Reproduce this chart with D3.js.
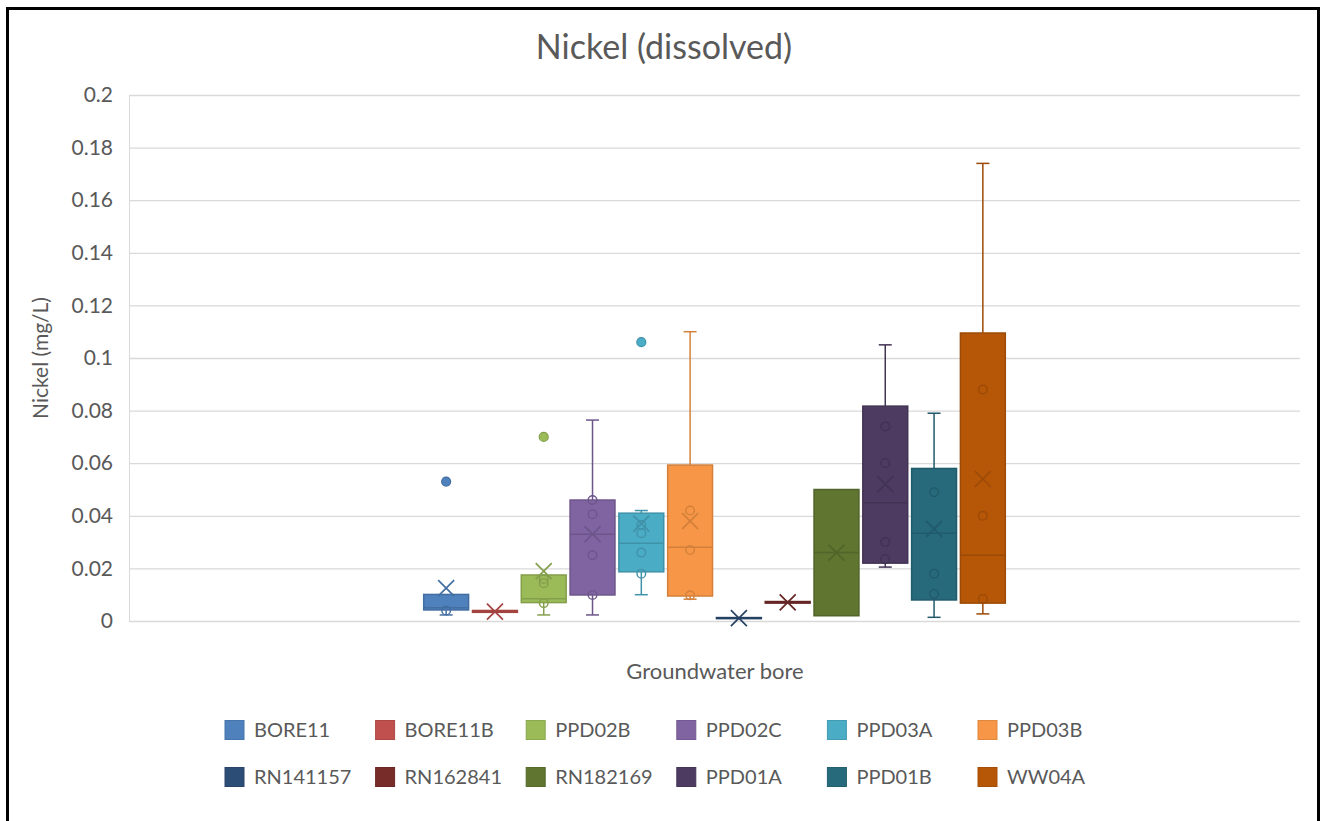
<!DOCTYPE html>
<html>
<head>
<meta charset="utf-8">
<script src="https://cdn.jsdelivr.net/npm/d3@7/dist/d3.min.js"></script>
<style>
  body { margin: 0; background: #fff; }
  svg text { font-family: Lato, "Open Sans", sans-serif; fill: #595959; }
</style>
</head>
<body>
<svg id="chart" width="1327" height="821"></svg>
<script>
// Dissolved nickel by groundwater bore (mg/L) — box & whisker summaries
const bores = ["BORE11", "BORE11B", "PPD02B", "PPD02C", "PPD03A", "PPD03B",
               "RN141157", "RN162841", "RN182169", "PPD01A", "PPD01B", "WW04A"];
const boreColors = ["#4F81BD", "#C0504D", "#9BBB59", "#8064A2", "#4BACC6", "#F79646",
                    "#2C4D75", "#772C2A", "#5F7530", "#4D3B62", "#276A7C", "#B65708"];

const whiskerLow  = [0.0023, 0.0033, 0.0023, 0.0023, 0.0100, 0.0083, 0.0009, 0.0068, 0.0020, 0.0205, 0.0014, 0.0027];
const quartile1   = [0.0042, 0.0033, 0.0070, 0.0099, 0.0187, 0.0095, 0.0009, 0.0068, 0.0020, 0.0220, 0.0080, 0.0068];
const medians     = [0.0050, 0.0036, 0.0085, 0.0330, 0.0296, 0.0280, 0.0011, 0.0071, 0.0260, 0.0450, 0.0334, 0.0250];
const quartile3   = [0.0101, 0.0040, 0.0175, 0.0460, 0.0410, 0.0593, 0.0013, 0.0074, 0.0500, 0.0817, 0.0580, 0.1095];
const whiskerHigh = [0.0101, 0.0040, 0.0175, 0.0764, 0.0420, 0.1100, 0.0013, 0.0074, 0.0500, 0.1050, 0.0790, 0.1740];
const means       = [0.0125, 0.0036, 0.0190, 0.0330, 0.0370, 0.0380, 0.0011, 0.0071, 0.0260, 0.0520, 0.0350, 0.0540];
const innerPoints = [
  [0.0040],
  [],
  [0.0160, 0.0144, 0.0068],
  [0.0460, 0.0406, 0.0250, 0.0099],
  [0.0365, 0.0334, 0.0260, 0.0180],
  [0.0420, 0.0270, 0.0098],
  [],
  [],
  [],
  [0.0740, 0.0600, 0.0300, 0.0235],
  [0.0490, 0.0180, 0.0103],
  [0.0880, 0.0400, 0.0084]
];
const outliers = [[0.053], [], [0.070], [], [0.106], [], [], [], [], [], [], []];

const yTicks = [0, 0.02, 0.04, 0.06, 0.08, 0.1, 0.12, 0.14, 0.16, 0.18, 0.2];
const yTickLabels = ["0", "0.02", "0.04", "0.06", "0.08", "0.1", "0.12", "0.14", "0.16", "0.18", "0.2"];

const titleText = "Nickel (dissolved)";
const yTitle = "Nickel (mg/L)";
const xTitle = "Groundwater bore";

// ---- layout ----
const svg = d3.select("#chart");
const plot = { left: 129, right: 1300, top: 95, bottom: 621 };
const plotW = plot.right - plot.left;

const y = d3.scaleLinear().domain([0, 0.2]).range([plot.bottom, plot.top]);
// single category: the series group takes the middle half of the plot width
const x = d3.scaleBand()
  .domain(bores)
  .range([plot.left + plotW / 4, plot.right - plotW / 4])
  .paddingInner(0.08)
  .paddingOuter(0.04);

// outer frame
svg.append("rect")
  .attr("x", 7.5).attr("y", 8.5)
  .attr("width", 1311).attr("height", 840)
  .attr("fill", "#fff").attr("stroke", "#000").attr("stroke-width", 3);

// title
svg.append("text")
  .attr("x", 664).attr("y", 59)
  .attr("text-anchor", "middle")
  .style("font-size", "34px")
  .text(titleText);

// gridlines + y tick labels
const yAxis = d3.axisLeft(y)
  .tickValues(yTicks)
  .tickSize(-plotW)
  .tickPadding(16)
  .tickFormat((d, i) => yTickLabels[i]);

const gy = svg.append("g")
  .attr("transform", `translate(${plot.left},0)`)
  .call(yAxis);
gy.select(".domain").attr("stroke", "#D9D9D9").attr("stroke-width", 1);
gy.selectAll(".tick line").attr("stroke", "#D9D9D9").attr("stroke-width", 1.3);
gy.selectAll(".tick text")
  .style("font-size", "21px")
  .style("font-family", "Lato, sans-serif")
  .attr("fill", "#595959");

// axis titles
svg.append("text")
  .attr("transform", `translate(48,${(plot.top + plot.bottom) / 2}) rotate(-90)`)
  .attr("text-anchor", "middle")
  .style("font-size", "21px")
  .text(yTitle);

svg.append("text")
  .attr("x", 715).attr("y", 679)
  .attr("text-anchor", "middle")
  .style("font-size", "22px")
  .text(xTitle);

// ---- boxes ----
const bw = x.bandwidth();
const capW = 13;

bores.forEach((name, i) => {
  const c = boreColors[i];
  const edge = d3.color(c).darker(0.45).formatHex();
  const cx = x(name) + bw / 2;
  const g = svg.append("g").attr("class", "box");

  // whiskers
  g.append("line")
    .attr("x1", cx).attr("x2", cx)
    .attr("y1", y(quartile3[i])).attr("y2", y(whiskerHigh[i]))
    .attr("stroke", edge).attr("stroke-width", 1.5);
  g.append("line")
    .attr("x1", cx).attr("x2", cx)
    .attr("y1", y(quartile1[i])).attr("y2", y(whiskerLow[i]))
    .attr("stroke", edge).attr("stroke-width", 1.5);
  if (whiskerHigh[i] > quartile3[i]) {
    g.append("line")
      .attr("x1", cx - capW / 2).attr("x2", cx + capW / 2)
      .attr("y1", y(whiskerHigh[i])).attr("y2", y(whiskerHigh[i]))
      .attr("stroke", edge).attr("stroke-width", 1.5);
  }
  if (whiskerLow[i] < quartile1[i]) {
    g.append("line")
      .attr("x1", cx - capW / 2).attr("x2", cx + capW / 2)
      .attr("y1", y(whiskerLow[i])).attr("y2", y(whiskerLow[i]))
      .attr("stroke", edge).attr("stroke-width", 1.5);
  }

  // box
  g.append("rect")
    .attr("x", x(name)).attr("width", bw)
    .attr("y", y(quartile3[i]))
    .attr("height", Math.max(0.5, y(quartile1[i]) - y(quartile3[i])))
    .attr("fill", c).attr("stroke", edge).attr("stroke-width", 1.5);

  // median
  g.append("line")
    .attr("x1", x(name)).attr("x2", x(name) + bw)
    .attr("y1", y(medians[i])).attr("y2", y(medians[i]))
    .attr("stroke", edge).attr("stroke-width", 1.5);

  // inner points
  g.selectAll("circle.inner")
    .data(innerPoints[i]).enter().append("circle")
    .attr("class", "inner")
    .attr("cx", cx).attr("cy", d => y(d)).attr("r", 4.3)
    .attr("fill", "none").attr("stroke", edge).attr("stroke-width", 1.4);

  // mean marker
  const m = y(means[i]), s = 8;
  g.append("path")
    .attr("d", `M${cx - s},${m - s}L${cx + s},${m + s}M${cx - s},${m + s}L${cx + s},${m - s}`)
    .attr("stroke", edge).attr("stroke-width", 1.7).attr("fill", "none");

  // outliers
  g.selectAll("circle.outlier")
    .data(outliers[i]).enter().append("circle")
    .attr("class", "outlier")
    .attr("cx", cx).attr("cy", d => y(d)).attr("r", 4.5)
    .attr("fill", c).attr("stroke", edge).attr("stroke-width", 1.2);
});

// ---- legend ----
const legendCols = 6;
const legendX0 = 225, legendStep = 150.6;
const legendRowY = [730, 777];
const legend = svg.append("g").attr("class", "legend");
bores.forEach((name, i) => {
  const col = i % legendCols, row = Math.floor(i / legendCols);
  const lx = legendX0 + col * legendStep, ly = legendRowY[row];
  legend.append("rect")
    .attr("x", lx).attr("y", ly - 9.5)
    .attr("width", 19).attr("height", 19)
    .attr("fill", boreColors[i])
    .attr("stroke", d3.color(boreColors[i]).darker(0.3).formatHex())
    .attr("stroke-width", 1);
  legend.append("text")
    .attr("x", lx + 29).attr("y", ly + 7)
    .style("font-size", "20px")
    .text(name);
});
</script>
</body>
</html>
